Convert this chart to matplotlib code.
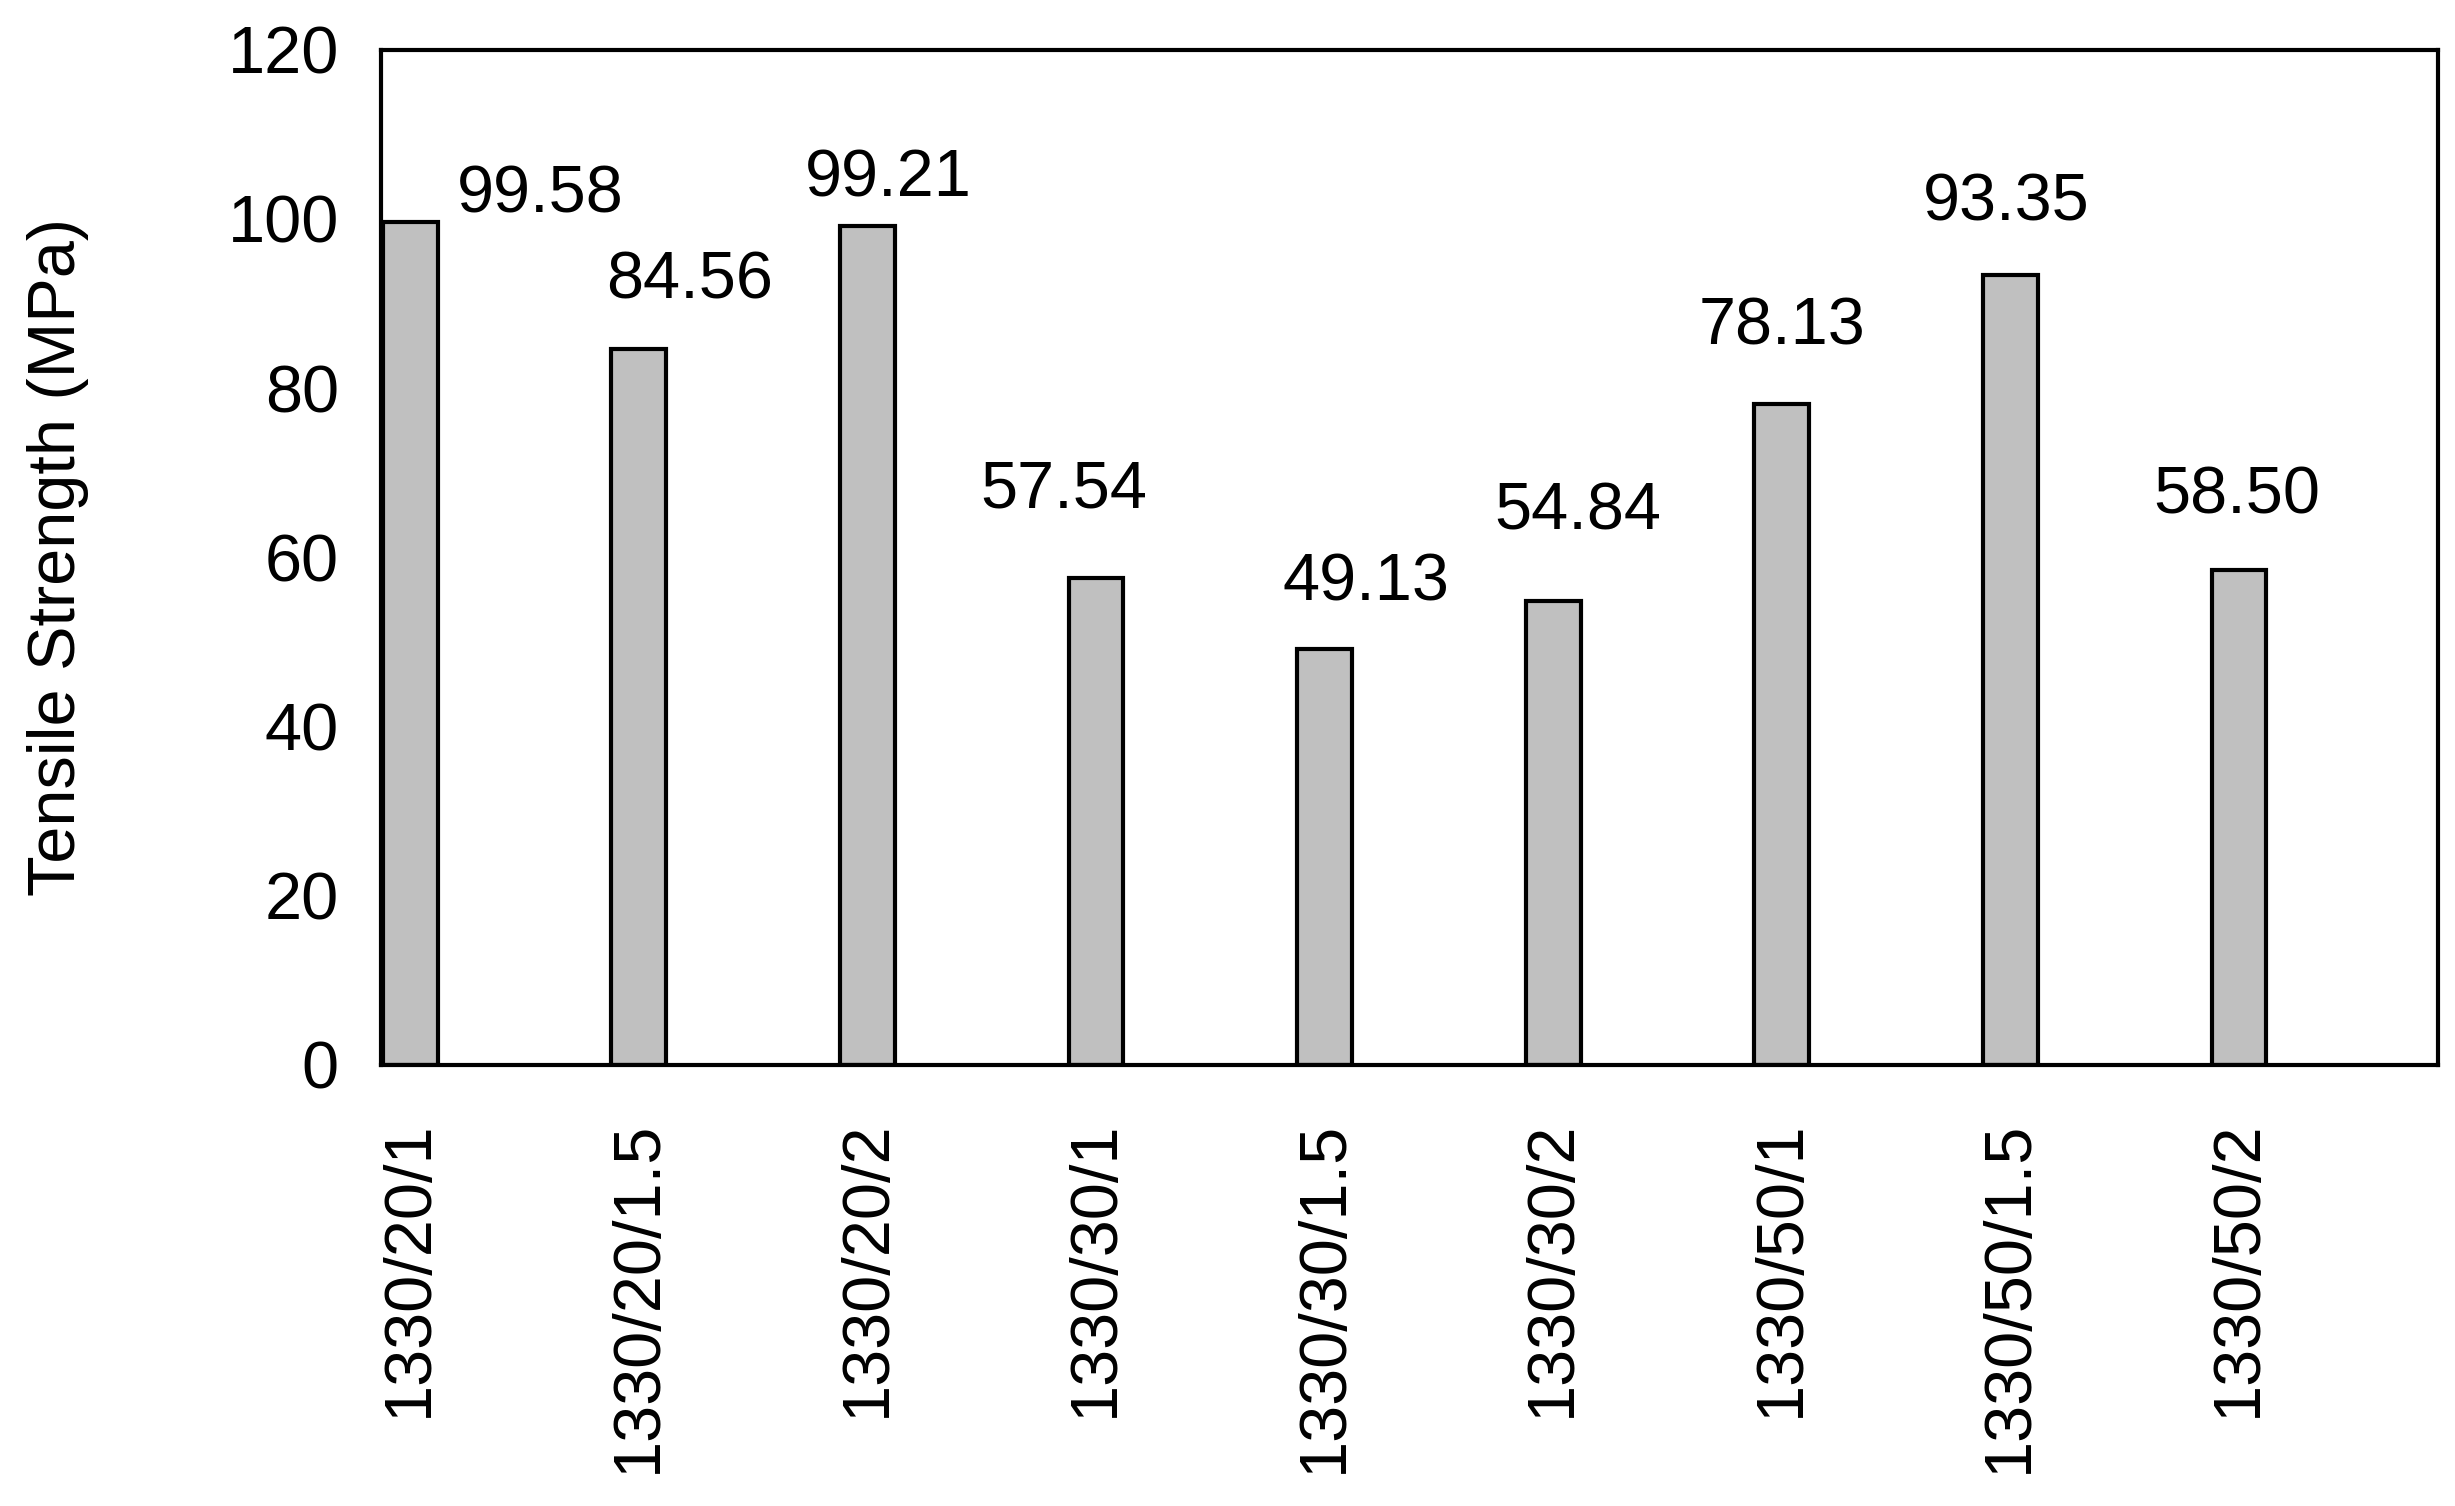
import matplotlib.pyplot as plt

plt.rcParams['font.family'] = ['Liberation Sans', 'DejaVu Sans']

categories = ["1330/20/1", "1330/20/1.5", "1330/20/2", "1330/30/1", "1330/30/1.5",
              "1330/30/2", "1330/50/1", "1330/50/1.5", "1330/50/2"]
strength = [99.58, 84.56, 99.21, 57.54, 49.13, 54.84, 78.13, 93.35, 58.50]

# label placement tweaks (x offset in slots, y offset in MPa)
label_dx = [0.57, 0.22, 0.09, -0.14, 0.18, 0.11, 0.0, -0.02, -0.01]
label_dy = [3.2, 8.0, 5.4, 10.4, 7.8, 10.5, 9.0, 8.5, 8.7]

fig = plt.figure(figsize=(24.55, 15.06), dpi=100)
ax = fig.add_axes([0.155, 0.293, 0.838, 0.674])

width = 0.24
xs = [i + 0.01 for i in range(len(categories))]
ax.bar(xs, strength, width=width, align='edge', color='#c0c0c0',
       edgecolor='black', linewidth=3)

for i, v in enumerate(strength):
    ax.text(xs[i] + width / 2 + label_dx[i], v + label_dy[i], f"{v:.2f}",
            ha='center', va='center', fontsize=48)

ax.set_xlim(0, 9)
ax.set_ylim(0, 120)
ax.set_yticks(range(0, 121, 20))
ax.set_xticks([x + width / 2 for x in xs])
ax.set_xticklabels(categories, rotation=90, fontsize=48)
ax.tick_params(axis='y', labelsize=48, length=0, pad=30)
ax.tick_params(axis='x', length=0, pad=40)
for s in ax.spines.values():
    s.set_linewidth(3)
ax.set_ylabel("Tensile Strength (MPa)", fontsize=48, labelpad=100)

fig.savefig("out.png", dpi=100)
